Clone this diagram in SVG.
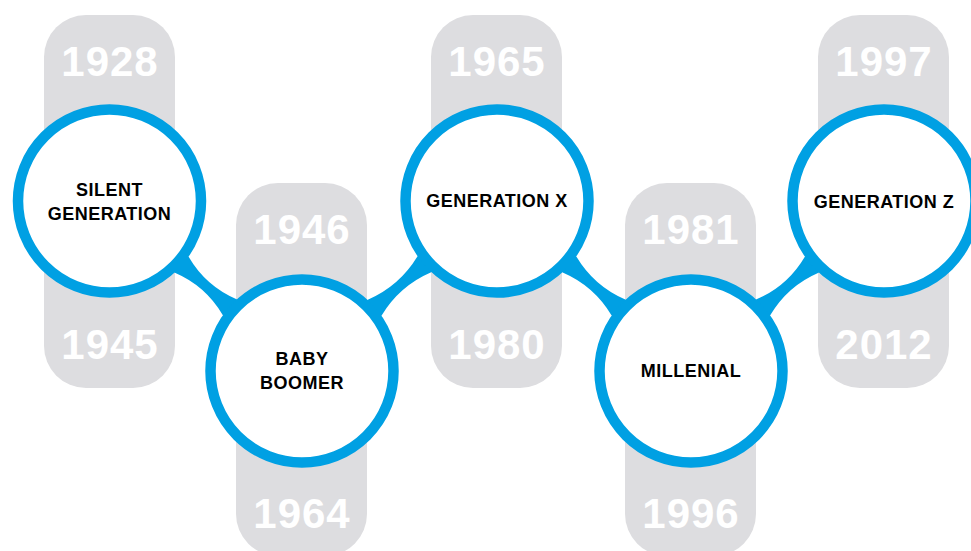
<svg xmlns="http://www.w3.org/2000/svg" width="971" height="551" viewBox="0 0 971 551">
<style>
.pill{fill:#DDDDE0}
.year{font-family:"Liberation Sans",Arial,sans-serif;font-weight:bold;font-size:42px;fill:#FFFFFF;text-anchor:middle;letter-spacing:1px}
.ring{fill:#FFFFFF;stroke:#00A0E3;stroke-width:10.5}
.lbl{font-family:"Liberation Sans",Arial,sans-serif;font-weight:bold;font-size:18px;fill:#000000;text-anchor:middle;letter-spacing:0.5px}
.band{fill:#00A0E3}
</style>
<rect width="971" height="551" fill="#FFFFFF"/>
<g id="pills">
<rect class="pill" x="44" y="15" width="131" height="373" rx="42"/>
<rect class="pill" x="236" y="183" width="131" height="373" rx="42"/>
<rect class="pill" x="431" y="15" width="131" height="373" rx="42"/>
<rect class="pill" x="625" y="183" width="131" height="373" rx="42"/>
<rect class="pill" x="818" y="15" width="131" height="373" rx="42"/>
<text class="year" x="110" y="76">1928</text>
<text class="year" x="110" y="359">1945</text>
<text class="year" x="302" y="244">1946</text>
<text class="year" x="302" y="528">1964</text>
<text class="year" x="497" y="76">1965</text>
<text class="year" x="497" y="359">1980</text>
<text class="year" x="691" y="244">1981</text>
<text class="year" x="691" y="528">1996</text>
<text class="year" x="884" y="76">1997</text>
<text class="year" x="884" y="359">2012</text>
</g>
<g id="connectors">
<path class="band" transform="translate(109.5 201) rotate(41.45)" d="M85 -10.5 L96.5 -10.5 Q128.4 0 160.3 -10.5 L171.8 -10.5 L171.8 10.5 L160.3 10.5 Q128.4 0 96.5 10.5 L85 10.5 Z"/>
<path class="band" transform="translate(302 371) rotate(-41.08)" d="M85 -10.5 L96.5 -10.5 Q129.35 0 162.2 -10.5 L173.7 -10.5 L173.7 10.5 L162.2 10.5 Q129.35 0 96.5 10.5 L85 10.5 Z"/>
<path class="band" transform="translate(497 201) rotate(41.23)" d="M85 -10.5 L96.5 -10.5 Q128.95 0 161.4 -10.5 L172.9 -10.5 L172.9 10.5 L161.4 10.5 Q128.95 0 96.5 10.5 L85 10.5 Z"/>
<path class="band" transform="translate(691 371) rotate(-41.37)" d="M85 -10.5 L96.5 -10.5 Q128.6 0 160.7 -10.5 L172.2 -10.5 L172.2 10.5 L160.7 10.5 Q128.6 0 96.5 10.5 L85 10.5 Z"/>
</g>
<g id="silent">
<circle class="ring" cx="109.5" cy="201" r="91.5"/>
<text class="lbl" x="109.5" y="196">SILENT</text>
<text class="lbl" x="109.5" y="220">GENERATION</text>
</g>
<g id="boomer">
<circle class="ring" cx="302" cy="371" r="91.5"/>
<text class="lbl" x="302" y="365">BABY</text>
<text class="lbl" x="302" y="389">BOOMER</text>
</g>
<g id="genx">
<circle class="ring" cx="497" cy="201" r="91.5"/>
<text class="lbl" x="497" y="207">GENERATION X</text>
</g>
<g id="millenial">
<circle class="ring" cx="691" cy="371" r="91.5"/>
<text class="lbl" x="691" y="377">MILLENIAL</text>
</g>
<g id="genz">
<circle class="ring" cx="884" cy="201" r="91.5"/>
<text class="lbl" x="884" y="208">GENERATION Z</text>
</g>
</svg>
